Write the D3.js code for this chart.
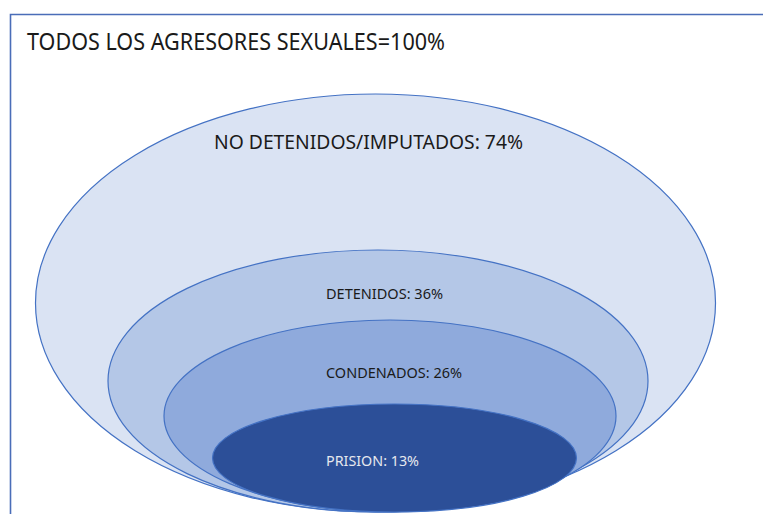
<!DOCTYPE html>
<html>
<head>
    <meta charset="utf-8">
    <title>Agresores sexuales</title>
    <script src="https://d3js.org/d3.v7.min.js"></script>
    <style>
        body { margin: 0; background: #fff; }
    </style>
</head>
<body>
<div id="chart"></div>
<script type="text/javascript">
    // datos
    let totalLabel = "TODOS LOS AGRESORES SEXUALES";
    let totalValue = 100;
    let grupos = ["NO DETENIDOS/IMPUTADOS", "DETENIDOS", "CONDENADOS", "PRISION"];
    let valores = [74, 36, 26, 13];

    let w = 763, h = 514;

    // escalas: valor -> tamaño de la elipse (diagrama anidado, no proporcional)
    let rxScale = d3.scaleLinear().domain([13, 26, 36, 74]).range([182, 226, 270, 340]);
    let ryScale = d3.scaleLinear().domain([13, 26, 36, 74]).range([54, 96, 131, 209]);
    let cxScale = d3.scaleLinear().domain([13, 26, 36, 74]).range([394.5, 390, 378, 375.5]);
    let bottom = 512;

    let fills = ["#dae3f3", "#b4c7e7", "#8faadc", "#2c4f98"];
    let textColors = ["#1a1a1a", "#1a1a1a", "#1a1a1a", "#e6e8ee"];
    let fontSizes = [20, 15, 15, 15];
    let labelX = [214, 326, 326, 326];
    let labelW = [309, 117, 136, 93];
    let labelDy = [55, 49, 58, 62]; // desde la parte superior de cada elipse

    let svg = d3.select("#chart")
        .append("svg")
        .attr("width", w)
        .attr("height", h);

    // marco
    svg.append("path")
        .attr("d", "M10.5," + h + " L10.5,14.5 L" + w + ",14.5")
        .attr("fill", "none")
        .attr("stroke", "#4a6db8")
        .attr("stroke-width", 1.6);

    svg.append("text")
        .attr("x", 27)
        .attr("y", 50)
        .attr("font-family", "Noto Sans, sans-serif")
        .attr("font-size", 23)
        .attr("fill", "#1a1a1a")
        .attr("textLength", 418)
        .attr("lengthAdjust", "spacingAndGlyphs")
        .text(totalLabel + "=" + totalValue + "%");

    let g = svg.selectAll("g.grupo")
        .data(grupos)
        .enter()
        .append("g")
        .attr("class", "grupo");

    g.append("ellipse")
        .attr("cx", function(d, i){ return cxScale(valores[i]); })
        .attr("cy", function(d, i){ return bottom - ryScale(valores[i]); })
        .attr("rx", function(d, i){ return rxScale(valores[i]); })
        .attr("ry", function(d, i){ return ryScale(valores[i]); })
        .attr("fill", function(d, i){ return fills[i]; })
        .attr("stroke", "#4472c4")
        .attr("stroke-width", 1.2);

    g.append("text")
        .attr("x", function(d, i){ return labelX[i]; })
        .attr("y", function(d, i){ return bottom - 2 * ryScale(valores[i]) + labelDy[i]; })
        .attr("font-family", "Noto Sans, sans-serif")
        .attr("font-size", function(d, i){ return fontSizes[i]; })
        .attr("fill", function(d, i){ return textColors[i]; })
        .attr("textLength", function(d, i){ return labelW[i]; })
        .attr("lengthAdjust", "spacingAndGlyphs")
        .text(function(d, i){ return d + ": " + valores[i] + "%"; });
</script>
</body>
</html>
